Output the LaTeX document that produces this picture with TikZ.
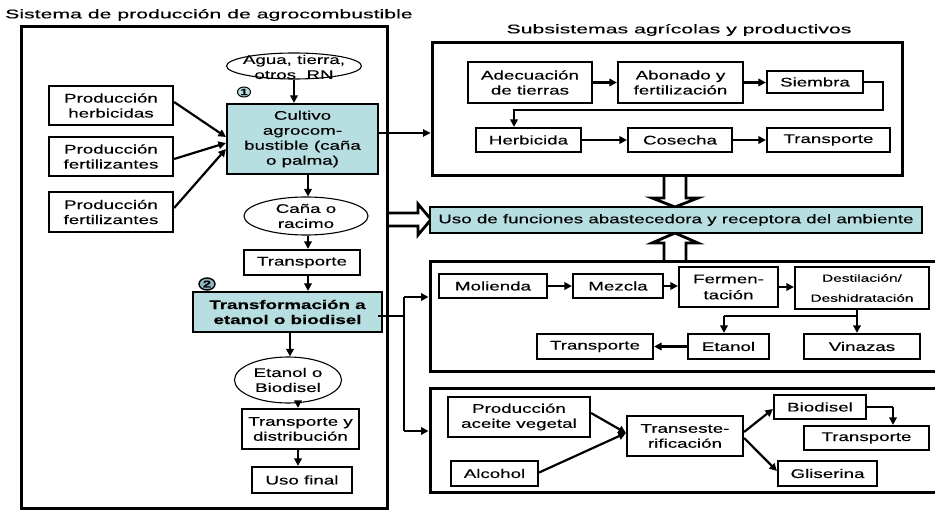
\documentclass[tikz,border=0pt]{standalone}
\usepackage{fontspec}
\setmainfont{Liberation Sans}[FakeStretch=1.5,FakeBold=0.3]
\newfontfamily\titlefont{Liberation Sans}[FakeStretch=1.7,FakeBold=0.3]
\usetikzlibrary{arrows.meta,shapes.geometric,calc}
\definecolor{tealL}{RGB}{183,222,224}
\definecolor{tealD}{RGB}{140,182,192}
\begin{document}
\begin{tikzpicture}[x=1pt,y=-1pt,
  every node/.style={inner sep=0pt, align=center, font=\fontsize{12.5}{15}\selectfont},
  stbox/.style={draw, line width=2.2pt, fill=white, rectangle},
  tlbox/.style={stbox, fill=tealL},
  ovl/.style={draw, ellipse, line width=1.1pt},
  bigfr/.style={draw, line width=3pt, rectangle},
  arw/.style={line width=2.2pt, -{Triangle[length=7.5pt,width=7.5pt]}},
  tarw/.style={line width=1.1pt, -{Triangle[length=7.5pt,width=7.5pt]}},
  thn/.style={line width=1.1pt},
  hol/.style={draw, line width=2.8pt, fill=white, line join=miter},
  badge/.style={draw, ellipse, inner sep=0pt}
]
\useasboundingbox (0,0) rectangle (935,513);

% hollow arrows (drawn first)
\draw[hol] (386,213) -- (418,213) -- (418,204) -- (431,219.5) -- (418,235) -- (418,226) -- (386,226);
\draw[hol] (664,176) -- (664,198) -- (652,198) -- (675,207) -- (698,198) -- (686,198) -- (686,176);
\draw[hol] (664,261) -- (664,243) -- (652,243) -- (675,233) -- (698,243) -- (686,243) -- (686,261);

% titles
\node[anchor=west, font=\titlefont\fontsize{12.5}{15}\selectfont] (t1) at (5,15) {Sistema de producción de agrocombustible};
\node[font=\titlefont\fontsize{12.5}{15}\selectfont] (t2) at (679,30) {Subsistemas agrícolas y productivos};

% left frame
\node[bigfr, minimum width=366, minimum height=481] (lb) at (204,267.5) {};

\node[ovl, minimum width=135, minimum height=26] (agua) at (294,66) {};
\node (aguat) at (294,67) {Agua, tierra,\\otros\ \ RN};
\node[tlbox, minimum width=151, minimum height=70] (cult) at (302.5,139) {Cultivo\\agrocom-\\bustible (caña\\o palma)};
\node[stbox, minimum width=124, minimum height=39] (herb) at (111,105.5) {Producción\\herbicidas};
\node[stbox, minimum width=124, minimum height=39] (fert1) at (111,156.5) {Producción\\fertilizantes};
\node[stbox, minimum width=124, minimum height=40] (fert2) at (111,212) {Producción\\fertilizantes};
\node[ovl, minimum width=124, minimum height=38] (cana) at (306,216) {};
\node (canat) at (306,216) {Caña o\\racimo};
\node[stbox, minimum width=116, minimum height=25] (tr1) at (302,262.5) {Transporte};
\node[tlbox, minimum width=189, minimum height=40, font=\fontsize{12.5}{15}\selectfont\bfseries] (transf) at (287.5,312) {Transformación a\\etanol o biodisel};
\node[ovl, minimum width=107, minimum height=46] (etbio) at (288,380) {};
\node (etbiot) at (288,380) {Etanol o\\Biodisel};
\node[stbox, minimum width=117, minimum height=40] (tyd) at (300.5,429) {Transporte y\\distribución};
\node[stbox, minimum width=100, minimum height=26] (usof) at (302,480) {Uso final};

\node[badge, line width=1pt, fill=tealL, minimum width=13, minimum height=10, font=\fontsize{9}{9}\selectfont\bfseries] (m1) at (244,92) {1};
\node[badge, line width=1.4pt, fill=tealD, minimum width=16, minimum height=12, font=\fontsize{10}{10}\selectfont\bfseries] (m2) at (207,284) {2};

\draw[arw] (agua.south) -- (agua.south |- cult.north);
\draw[arw] ([xshift=5.5pt]cult.south) -- ([xshift=5.5pt]cult.south |- cana.north);
\draw[arw] ([xshift=2pt]cana.south) -- ([xshift=2pt]cana.south |- tr1.north);
\draw[arw] ([xshift=6pt]tr1.south) -- ([xshift=6pt]tr1.south |- transf.north);
\draw[arw] ([xshift=2.5pt]transf.south) -- ([xshift=2.5pt]transf.south |- etbio.north);
\draw[arw] ([xshift=10pt,yshift=1pt]etbio.south) -- ([xshift=10pt]etbio.south |- tyd.north);
\draw[arw] ([xshift=-2.5pt]tyd.south) -- ([xshift=-2.5pt]tyd.south |- usof.north);
\draw[arw] ([yshift=3.5pt]herb.east) -- ([yshift=2pt]cult.west);
\draw[arw] ([yshift=-2.5pt]fert1.east) -- ([yshift=-4pt]cult.west);
\draw[arw] ([yshift=4pt]fert2.east) -- ([yshift=-10pt]cult.west);

% top subsystem
\node[bigfr, minimum width=470, minimum height=133] (tb) at (667,109.5) {};
\node[stbox, minimum width=124, minimum height=41] (adec) at (530,82.5) {Adecuación\\de tierras};
\node[stbox, minimum width=125, minimum height=41] (abon) at (680.5,82.5) {Abonado y\\fertilización};
\node[stbox, minimum width=96, minimum height=22] (siem) at (815,82) {Siembra};
\node[stbox, minimum width=105, minimum height=24] (herbi) at (528.5,140) {Herbicida};
\node[stbox, minimum width=104, minimum height=24] (cose) at (680,140) {Cosecha};
\node[stbox, minimum width=123, minimum height=24] (tr2) at (828.5,140) {Transporte};
\draw[arw] (adec) -- (abon);
\draw[arw] (abon.east) -- (abon.east -| siem.west);
\coordinate (c1) at (883,110);
\draw[arw] (siem.east) -| (c1) -| ([xshift=-14.5pt]herbi.north);
\draw[arw] (herbi) -- (cose);
\draw[arw] (cose) -- (tr2);
\draw[tarw] ([yshift=6pt]cult.east) -- ([yshift=6pt]cult.east -| tb.west);

\node[tlbox, minimum width=492, minimum height=26] (uso) at (676,220) {Uso de funciones abastecedora y receptora del ambiente};

% ethanol subsystem
\node[bigfr, minimum width=508, minimum height=109] (b2) at (684,316.5) {};
\node[stbox, minimum width=108, minimum height=24] (mol) at (493,286) {Molienda};
\node[stbox, minimum width=90, minimum height=24] (mez) at (618,286) {Mezcla};
\node[stbox, minimum width=99, minimum height=40, font=\fontsize{12.5}{16}\selectfont] (ferm) at (728.5,287) {Fermen-\\tación};
\node[stbox, minimum width=134, minimum height=42, font=\fontsize{10.3}{20}\selectfont] (dest) at (862,288) {Destilación/\\Deshidratación};
\node[stbox, minimum width=81, minimum height=25] (etan) at (728.5,346.5) {Etanol};
\node[stbox, minimum width=116, minimum height=25] (vin) at (862,346.5) {Vinazas};
\node[stbox, minimum width=116, minimum height=25] (tr3) at (595,346.5) {Transporte};
\draw[arw] (mol) -- (mez);
\draw[arw] (mez.east) -- (mez.east -| ferm.west);
\draw[arw] (ferm.east) -- (ferm.east -| dest.west);
\draw[arw] ([xshift=-5pt]dest.south) -- ([xshift=-5pt]dest.south |- vin.north);
\coordinate (c2) at (857,316);
\coordinate (c3) at (724,316);
\draw[thn] (c2) -- (c3);
\draw[arw] (c3) -- (c3 |- etan.north);
\draw[arw] (etan) -- (tr3);

% biodiesel subsystem
\node[bigfr, minimum width=508, minimum height=104] (b3) at (684,440) {};
\node[stbox, minimum width=142, minimum height=40] (pav) at (519,417) {Producción\\aceite vegetal};
\node[stbox, minimum width=87, minimum height=25] (alc) at (494.5,473.5) {Alcohol};
\node[stbox, minimum width=116, minimum height=40] (tra) at (685,436) {Transeste-\\rificación};
\node[stbox, minimum width=92, minimum height=24] (bio) at (820,407) {Biodisel};
\node[stbox, minimum width=125, minimum height=24] (tr4) at (866.5,438) {Transporte};
\node[stbox, minimum width=99, minimum height=25] (gli) at (827.5,473.5) {Gliserina};
\draw[arw] ([yshift=4pt]pav.east) -- ([yshift=3pt]tra.west);
\draw[arw] ([yshift=1pt]alc.east) -- ([yshift=3pt]tra.west);
\draw[arw] ([yshift=4pt]tra.east) -- ([yshift=-2pt]bio.west);
\draw[arw] ([yshift=-2pt]tra.east) -- ([yshift=2.5pt]gli.west);
\coordinate (c4) at (893,407);
\draw[thn] (bio.east) -- (c4);
\draw[arw] (c4) -- (c4 |- tr4.north);

% connector from transformation
\coordinate (j0) at (404,316);
\coordinate (j1) at (404,297);
\coordinate (j2) at (404,431);
\draw[thn] ([xshift=-5pt,yshift=-4pt]transf.east) -- (j0);
\draw[thn] (j1) -- (j2);
\draw[arw] (j1) -- (j1 -| b2.west);
\draw[arw] (j2) -- (j2 -| b3.west);
\end{tikzpicture}
\end{document}
